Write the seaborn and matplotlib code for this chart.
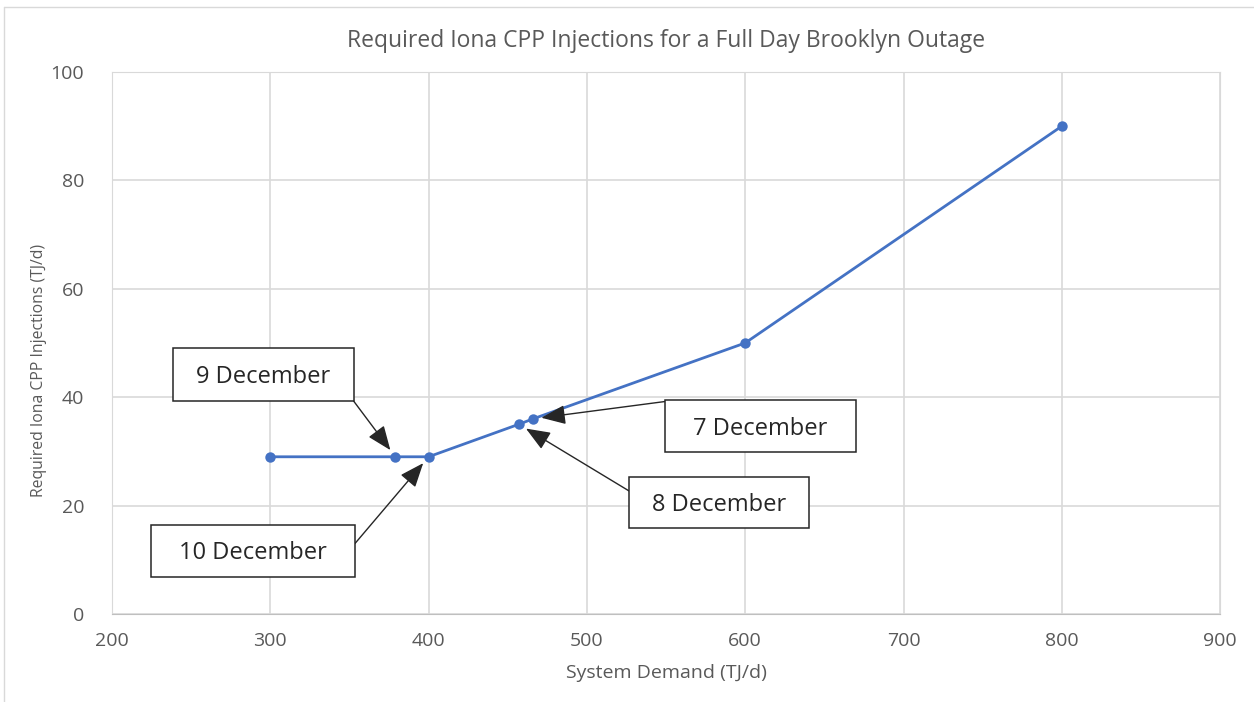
import matplotlib
matplotlib.use("Agg")
import matplotlib.pyplot as plt
from matplotlib.patches import Rectangle
import seaborn as sns
import pandas as pd

# values
demand = [300, 379, 400, 457, 466, 600, 800]
injections = [29, 29, 29, 35, 36, 50, 90]

# callouts: label, point the arrow hits, box (x0, x1, y0, y1), arrow start
labels = ["9 December", "10 December", "8 December", "7 December"]
label_targets = [(379, 29), (400, 29), (457, 35), (466, 36)]
label_boxes = [(238.3, 352.6, 39.3, 49.0), (224.6, 353.5, 6.9, 16.5),
               (526.6, 640.5, 15.8, 25.3), (549.4, 669.8, 29.8, 39.4)]
arrow_start = [(352.6, 39.3), (353.5, 13.0), (526.6, 22.7), (549.4, 39.2)]

df = pd.DataFrame({"demand": demand, "inj": injections})

sns.set_style("white")
plt.rcParams["font.family"] = ["Open Sans", "DejaVu Sans"]
grey = "#595959"
dark = "#262626"

fig = plt.figure(figsize=(12.54, 7.02), dpi=100)
ax = fig.add_axes([0.0893, 0.1254, 0.8837, 0.7721])

sns.lineplot(data=df, x="demand", y="inj", ax=ax, color="#4472C4",
             marker="o", markersize=7.5, markeredgewidth=0, linewidth=2)

ax.set_xlim(200, 900)
ax.set_ylim(0, 100)
ax.set_xticks(range(200, 901, 100))
ax.set_yticks(range(0, 101, 20))
ax.grid(True, color="#d9d9d9", linewidth=1.2)
for side in ["top", "right", "left"]:
    ax.spines[side].set_color("#d9d9d9")
ax.spines["bottom"].set_color("#bfbfbf")
ax.tick_params(axis="both", length=0, colors=grey, labelsize=14)
ax.tick_params(axis="x", pad=13)
ax.tick_params(axis="y", pad=20)

ax.set_title("Required Iona CPP Injections for a Full Day Brooklyn Outage",
             color=grey, fontsize=16.5, pad=18)
ax.set_xlabel("System Demand (TJ/d)", color=grey, fontsize=14, labelpad=10)
ax.set_ylabel("Required Iona CPP Injections (TJ/d)", color=grey, fontsize=11.3)
ax.yaxis.set_label_coords(-0.059, 0.45)

for lab, tgt, box, st in zip(labels, label_targets, label_boxes, arrow_start):
    x0, x1, y0, y1 = box
    ax.add_patch(Rectangle((x0, y0), x1 - x0, y1 - y0, fc="white", ec=dark,
                           lw=1.1, zorder=5))
    ax.text((x0 + x1) / 2, (y0 + y1) / 2 - 0.4, lab, ha="center", va="center",
            fontsize=17, color=dark, zorder=6)
    ax.annotate("", xy=tgt, xytext=st, zorder=4,
                arrowprops=dict(arrowstyle="-|>,head_length=0.75,head_width=0.3",
                                color=dark, lw=1, shrinkA=0, shrinkB=6,
                                mutation_scale=20))

# outer chart border (top and left visible)
fig.add_artist(plt.Line2D([0.003, 1.0], [0.99, 0.99], color="#d9d9d9", lw=1))
fig.add_artist(plt.Line2D([0.003, 0.003], [0.0, 0.99], color="#d9d9d9", lw=1))

fig.savefig("out.png", dpi=100)
